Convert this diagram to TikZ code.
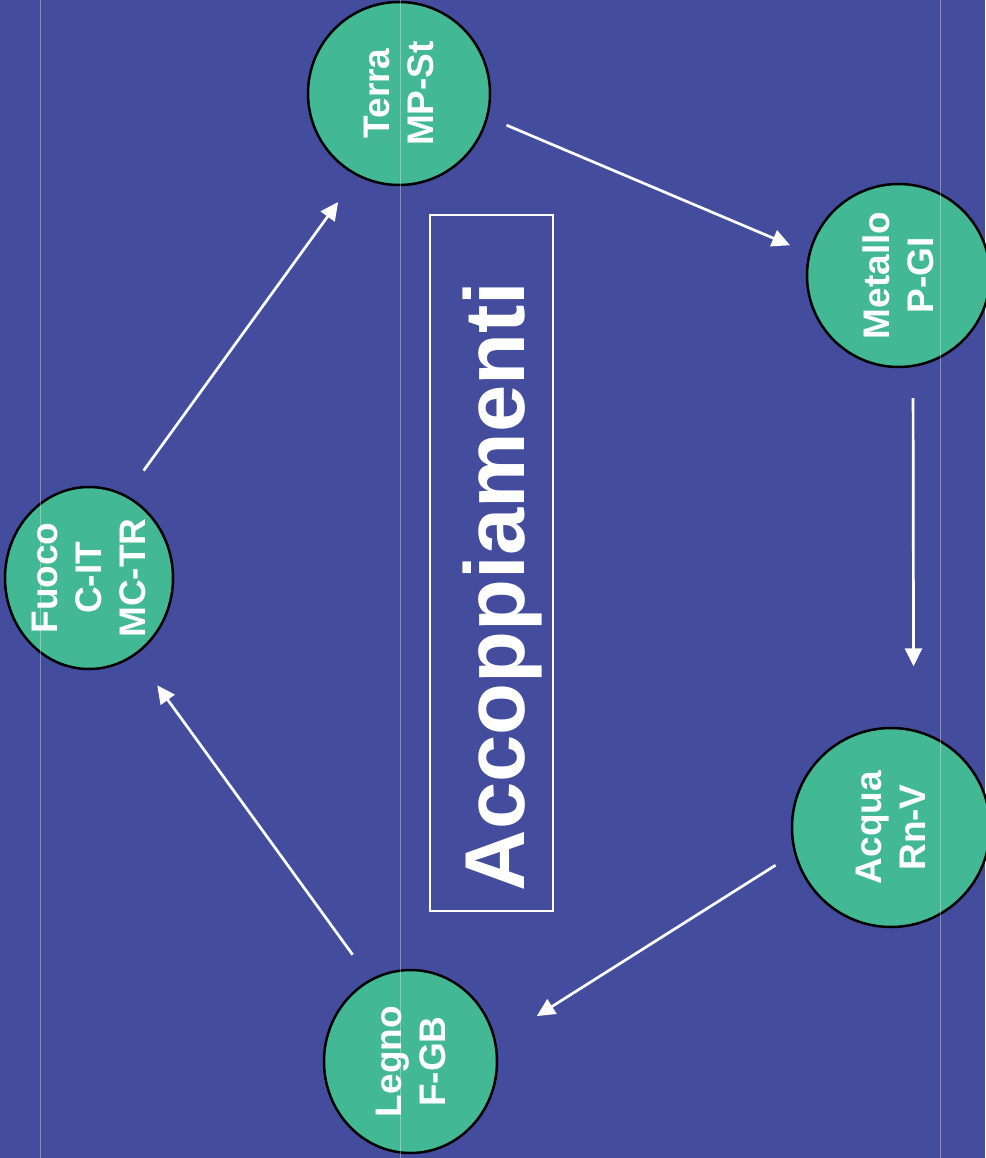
\documentclass[tikz,border=0pt]{standalone}
\usepackage{fontspec}
\setmainfont{Liberation Sans}
\usetikzlibrary{shapes.geometric,arrows.meta}
\definecolor{slide}{HTML}{444C9E}
\definecolor{jade}{HTML}{42B994}

\begin{document}
\begin{tikzpicture}[x=1pt,y=-1pt,
  elem/.style={ellipse,draw=black,line width=2.5pt,fill=jade,text=white,
    inner sep=0pt,align=center,rotate=90,
    font=\fontsize{37}{44}\selectfont\bfseries},
  flow/.style={draw=white,line width=2.7pt,-{Triangle[length=18pt,width=17pt]}},
  guide/.style={draw=white,opacity=.35,line width=1pt}]
  \path[use as bounding box,fill=slide] (0,0) rectangle (985,1158);
  \node[elem,minimum width=183pt,minimum height=182pt] (te) at (399,93.5) {Terra\\MP-St};
  \node[elem,minimum width=183pt,minimum height=183pt] (me) at (898.5,275.5) {Metallo\\P-GI};
  \node[elem,minimum width=199pt,minimum height=198pt] (ac) at (891,827.5) {Acqua\\Rn-V};
  \node[elem,minimum width=183pt,minimum height=173pt] (le) at (410.5,1061.5) {Legno\\F-GB};
  \node[elem,minimum width=182pt,minimum height=168pt] (fu) at (89,578) {Fuoco\\C-IT\\MC-TR};
  \node[draw=white,line width=2pt,minimum width=123pt,minimum height=696pt] (bx) at (491.5,563) {};
  \node[text=white,rotate=90,inner sep=0pt,font=\fontsize{85}{100}\selectfont\bfseries] (ti) at (502.5,586.5) {Accoppiamenti};
  \draw[flow,shorten <=20pt,shorten >=20pt] (te.-105) -- (me.76);
  \draw[flow,shorten <=31pt,shorten >=63pt] (me.189) -- (ac.-13);
  \draw[flow,shorten <=22pt,shorten >=48pt] (ac.105) -- (le.-77);
  \draw[flow,shorten <=30pt,shorten >=37pt] (le.26) -- (fu.211);
  \draw[flow,shorten <=30pt,shorten >=32pt] (fu.-24) -- (te.153);
  \draw[guide] (40,0) -- (40,1158) (400,0) -- (400,1158) (940,0) -- (940,1158);
\end{tikzpicture}
\end{document}
